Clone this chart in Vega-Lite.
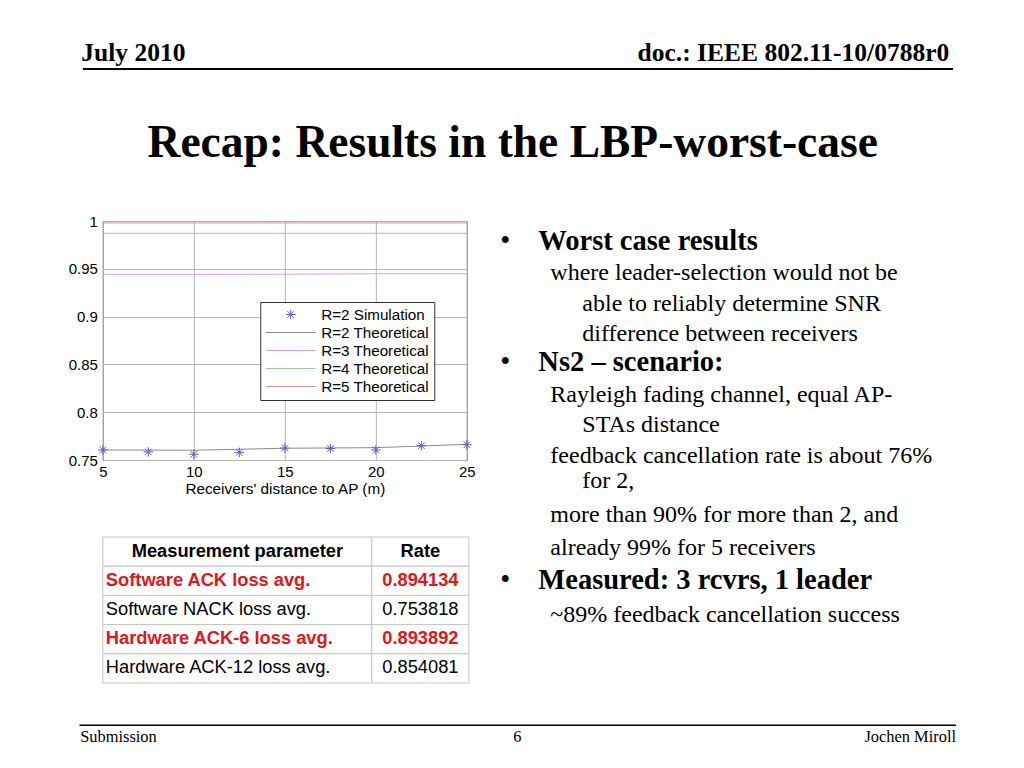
{
  "$schema": "https://vega.github.io/schema/vega-lite/v6.json",
  "background": "white",
  "padding": {"left": 67, "top": 38.5, "right": 0, "bottom": 0},
  "config": {"view": {"stroke": null}, "font": "Liberation Sans"},
  "datasets": {
    "header": [
      {"item": "date", "text": "July 2010"},
      {"item": "doc", "text": "doc.: IEEE 802.11-10/0788r0"}
    ],
    "title": [{"text": "Recap: Results in the LBP-worst-case"}],
    "footer": [
      {"item": "section", "text": "Submission"},
      {"item": "page", "text": "6"},
      {"item": "author", "text": "Jochen Miroll"}
    ],
    "curves": [
      {"series": "R=2 Simulation", "distance": 5, "rate": 0.7605},
      {"series": "R=2 Simulation", "distance": 7.5, "rate": 0.7585},
      {"series": "R=2 Simulation", "distance": 10, "rate": 0.756},
      {"series": "R=2 Simulation", "distance": 12.5, "rate": 0.758},
      {"series": "R=2 Simulation", "distance": 15, "rate": 0.7625},
      {"series": "R=2 Simulation", "distance": 17.5, "rate": 0.762},
      {"series": "R=2 Simulation", "distance": 20, "rate": 0.7605},
      {"series": "R=2 Simulation", "distance": 22.5, "rate": 0.765},
      {"series": "R=2 Simulation", "distance": 25, "rate": 0.766},
      {"series": "R=2 Theoretical", "distance": 5, "rate": 0.7605},
      {"series": "R=2 Theoretical", "distance": 10, "rate": 0.7602},
      {"series": "R=2 Theoretical", "distance": 15, "rate": 0.7623},
      {"series": "R=2 Theoretical", "distance": 20, "rate": 0.7629},
      {"series": "R=2 Theoretical", "distance": 25, "rate": 0.7664},
      {"series": "R=3 Theoretical", "distance": 5, "rate": 0.9442},
      {"series": "R=3 Theoretical", "distance": 10, "rate": 0.9442},
      {"series": "R=3 Theoretical", "distance": 15, "rate": 0.9443},
      {"series": "R=3 Theoretical", "distance": 20, "rate": 0.9448},
      {"series": "R=3 Theoretical", "distance": 25, "rate": 0.9449},
      {"series": "R=4 Theoretical", "distance": 5, "rate": 0.9871},
      {"series": "R=4 Theoretical", "distance": 10, "rate": 0.9871},
      {"series": "R=4 Theoretical", "distance": 15, "rate": 0.9871},
      {"series": "R=4 Theoretical", "distance": 20, "rate": 0.9871},
      {"series": "R=4 Theoretical", "distance": 25, "rate": 0.9871},
      {"series": "R=5 Theoretical", "distance": 5, "rate": 0.998},
      {"series": "R=5 Theoretical", "distance": 10, "rate": 0.998},
      {"series": "R=5 Theoretical", "distance": 15, "rate": 0.998},
      {"series": "R=5 Theoretical", "distance": 20, "rate": 0.998},
      {"series": "R=5 Theoretical", "distance": 25, "rate": 0.998}
    ],
    "table": [
      {"row": 1, "kind": "header", "param": "Measurement parameter", "rate": "Rate"},
      {"row": 2, "kind": "highlight", "param": "Software ACK loss avg.", "rate": "0.894134"},
      {"row": 3, "kind": "normal", "param": "Software NACK loss avg.", "rate": "0.753818"},
      {"row": 4, "kind": "highlight", "param": "Hardware ACK-6 loss avg.", "rate": "0.893892"},
      {"row": 5, "kind": "normal", "param": "Hardware ACK-12 loss avg.", "rate": "0.854081"}
    ],
    "bullets": [
      {"line": 1, "kind": "heading", "text": "Worst case results"},
      {"line": 2, "kind": "sub", "text": "where leader-selection would not be"},
      {"line": 3, "kind": "cont", "text": "able to reliably determine SNR"},
      {"line": 4, "kind": "cont", "text": "difference between receivers"},
      {"line": 5, "kind": "heading", "text": "Ns2 – scenario:"},
      {"line": 6, "kind": "sub", "text": "Rayleigh fading channel, equal AP-"},
      {"line": 7, "kind": "cont", "text": "STAs distance"},
      {"line": 8, "kind": "sub", "text": "feedback cancellation rate is about 76%"},
      {"line": 9, "kind": "cont", "text": "for 2,"},
      {"line": 10, "kind": "sub", "text": "more than 90% for more than 2, and"},
      {"line": 11, "kind": "sub", "text": "already 99% for 5 receivers"},
      {"line": 12, "kind": "heading", "text": "Measured: 3 rcvrs, 1 leader"},
      {"line": 13, "kind": "sub", "text": "~89% feedback cancellation success"}
    ]
  },
  "vconcat": [
    {
      "width": 870,
      "height": 30,
      "data": {"name": "header"},
      "encoding": {
        "x": {"field": "item", "type": "nominal", "scale": {"type": "point", "domain": ["date", "doc"], "padding": 0},
              "axis": {"orient": "bottom", "domain": true, "domainColor": "#000", "domainWidth": 2, "ticks": false, "labels": false, "title": null, "grid": false}},
        "text": {"field": "text"}
      },
      "layer": [
        {"transform": [{"filter": "datum.item === 'date'"}],
         "mark": {"type": "text", "align": "left", "baseline": "alphabetic", "dx": -1.25, "dy": 7.5, "font": "Liberation Serif", "fontSize": 25.5, "fontWeight": "bold", "color": "#000"}},
        {"transform": [{"filter": "datum.item === 'doc'"}],
         "mark": {"type": "text", "align": "right", "baseline": "alphabetic", "dx": -3.25, "dy": 7.5, "font": "Liberation Serif", "fontSize": 25.5, "fontWeight": "bold", "color": "#000"}}
      ]
    },
    {
      "width": 870,
      "height": 62.5,
      "data": {"name": "title"},
      "mark": {"type": "text", "font": "Liberation Serif", "fontSize": 45.5, "fontWeight": "bold", "baseline": "alphabetic", "dx": -4.75, "dy": 16, "color": "#000"},
      "encoding": {"text": {"field": "text"}}
    },
    {
      "columns": 2,
      "spacing": {"row": 77, "column": 30},
      "bounds": "flush",
      "concat": [
        {
          "width": 364,
          "height": 239,
          "view": {"stroke": "#333", "strokeWidth": 1},
          "data": {"name": "curves"},
          "encoding": {
            "x": {"field": "distance", "type": "quantitative",
                  "scale": {"domain": [5, 25], "nice": false, "zero": false},
                  "axis": {"values": [5, 10, 15, 20, 25], "grid": true, "gridColor": "#b4b4b4", "domain": false, "ticks": false,
                           "labelFont": "Liberation Sans", "labelFontSize": 15, "labelColor": "#000", "labelPadding": 4, "labelFlush": false, "labelOverlap": false,
                           "title": "Receivers' distance to AP (m)", "titleFont": "Liberation Sans", "titleFontSize": 15.3, "titleFontWeight": "normal", "titleColor": "#000", "titlePadding": 2}},
            "y": {"field": "rate", "type": "quantitative",
                  "scale": {"domain": [0.75, 1], "nice": false, "zero": false},
                  "axis": {"values": [0.75, 0.8, 0.85, 0.9, 0.95, 1], "format": "~g", "grid": true, "gridColor": "#b4b4b4", "domain": false, "ticks": false,
                           "labelFont": "Liberation Sans", "labelFontSize": 15, "labelColor": "#000", "labelPadding": 5.5, "labelFlush": false, "labelOverlap": false,
                           "title": null}},
            "color": {"field": "series", "type": "nominal",
                      "scale": {"domain": ["R=2 Simulation", "R=2 Theoretical", "R=3 Theoretical", "R=4 Theoretical", "R=5 Theoretical"],
                                "range": ["#5b5bd6", "#8c8c8c", "#e0a0e0", "#8fd48f", "#dc9090"]},
                      "legend": {"title": null, "orient": "none", "legendX": 181.25, "legendY": 263.5,
                                 "strokeColor": "#333", "fillColor": "#fff", "padding": 5,
                                 "labelFont": "Liberation Sans", "labelFontSize": 15.2, "labelColor": "#000", "labelLimit": 400,
                                 "symbolSize": 2500, "symbolStrokeWidth": 1, "symbolOffset": 0, "labelOffset": 5, "rowPadding": 2, "clipHeight": 15,
                                 "encode": {"symbols": {"update": {"size": {"signal": "datum.value === 'R=2 Simulation' ? 90 : 2500"}}}}}}
          },
          "layer": [
            {"transform": [{"filter": "datum.series !== 'R=2 Simulation'"}],
             "mark": {"type": "line", "strokeWidth": 1}},
            {"transform": [{"filter": "datum.series === 'R=2 Simulation'"}],
             "mark": {"type": "point", "filled": false, "size": 90, "strokeWidth": 1, "opacity": 1},
             "encoding": {
               "shape": {"field": "series", "type": "nominal",
                         "scale": {"domain": ["R=2 Simulation", "R=2 Theoretical", "R=3 Theoretical", "R=4 Theoretical", "R=5 Theoretical"],
                                   "range": ["M-1,0L1,0M0,-1L0,1M-0.7,-0.7L0.7,0.7M-0.7,0.7L0.7,-0.7", "stroke", "stroke", "stroke", "stroke"]},
                         "legend": {"title": null, "orient": "none", "legendX": 181.25, "legendY": 263.5,
                                 "strokeColor": "#333", "fillColor": "#fff", "padding": 5,
                                 "labelFont": "Liberation Sans", "labelFontSize": 15.2, "labelColor": "#000", "labelLimit": 400,
                                 "symbolSize": 2500, "symbolStrokeWidth": 1, "symbolOffset": 0, "labelOffset": 5, "rowPadding": 2, "clipHeight": 15,
                                 "encode": {"symbols": {"update": {"size": {"signal": "datum.value === 'R=2 Simulation' ? 90 : 2500"}}}}}}
             }}
          ]
        },
        {
          "width": 422.7,
          "height": 212.5,
          "data": {"name": "bullets"},
          "transform": [{"filter": "datum.line <= 8"}],
          "encoding": {
            "y": {"field": "line", "type": "ordinal", "scale": {"type": "point", "padding": 0}, "axis": null},
            "text": {"field": "text"}
          },
          "layer": [
            {"transform": [{"filter": "datum.kind === 'heading'"}],
             "mark": {"type": "text", "align": "left", "baseline": "alphabetic", "dx": -209.85, "dy": 29, "font": "Liberation Serif", "fontSize": 28.5, "color": "#000"},
             "encoding": {"text": {"value": "•"}}},
            {"transform": [{"filter": "datum.kind === 'heading'"}],
             "mark": {"type": "text", "align": "left", "baseline": "alphabetic", "dx": -171.85, "dy": 29, "font": "Liberation Serif", "fontSize": 28.5, "fontWeight": "bold", "color": "#000"}},
            {"transform": [{"filter": "datum.kind === 'sub'"}],
             "mark": {"type": "text", "align": "left", "baseline": "alphabetic", "dx": -159.85, "dy": 29, "font": "Liberation Serif", "fontSize": 24, "color": "#000"}},
            {"transform": [{"filter": "datum.kind === 'cont'"}],
             "mark": {"type": "text", "align": "left", "baseline": "alphabetic", "dx": -127.85, "dy": 29, "font": "Liberation Serif", "fontSize": 24, "color": "#000"}}
          ]
        },
        {
          "width": 366,
          "height": 146,
          "data": {"name": "table"},
          "encoding": {"y": {"field": "row", "type": "ordinal", "scale": {"paddingInner": 0, "paddingOuter": 0}, "axis": null}},
          "layer": [
            {"mark": {"type": "rect", "fill": "#fff", "stroke": "#c4c4c4", "strokeWidth": 1},
             "encoding": {"x": {"datum": 0, "type": "quantitative", "scale": {"domain": [0, 1], "nice": false, "zero": false}, "axis": null}, "x2": {"datum": 0.735}}},
            {"mark": {"type": "rect", "fill": "#fff", "stroke": "#c4c4c4", "strokeWidth": 1},
             "encoding": {"x": {"datum": 0.735, "type": "quantitative"}, "x2": {"datum": 1}}},
            {"transform": [{"filter": "datum.kind === 'header'"}],
             "mark": {"type": "text", "font": "Liberation Sans", "fontSize": 18.3, "fontWeight": "bold", "color": "#000", "baseline": "middle"},
             "encoding": {"x": {"datum": 0.3675, "type": "quantitative"}, "text": {"field": "param"}}},
            {"transform": [{"filter": "datum.kind === 'highlight'"}],
             "mark": {"type": "text", "align": "left", "dx": 3, "font": "Liberation Sans", "fontSize": 18.3, "fontWeight": "bold", "color": "#e3151a", "baseline": "middle"},
             "encoding": {"x": {"datum": 0, "type": "quantitative"}, "text": {"field": "param"}}},
            {"transform": [{"filter": "datum.kind === 'normal'"}],
             "mark": {"type": "text", "align": "left", "dx": 3, "font": "Liberation Sans", "fontSize": 18.3, "fontWeight": "normal", "color": "#000", "baseline": "middle"},
             "encoding": {"x": {"datum": 0, "type": "quantitative"}, "text": {"field": "param"}}},
            {"transform": [{"filter": "datum.kind === 'header'"}],
             "mark": {"type": "text", "font": "Liberation Sans", "fontSize": 18.3, "fontWeight": "bold", "color": "#000", "baseline": "middle"},
             "encoding": {"x": {"datum": 0.8675, "type": "quantitative"}, "text": {"field": "rate"}}},
            {"transform": [{"filter": "datum.kind === 'highlight'"}],
             "mark": {"type": "text", "font": "Liberation Sans", "fontSize": 18.3, "fontWeight": "bold", "color": "#e3151a", "baseline": "middle"},
             "encoding": {"x": {"datum": 0.8675, "type": "quantitative"}, "text": {"field": "rate"}}},
            {"transform": [{"filter": "datum.kind === 'normal'"}],
             "mark": {"type": "text", "font": "Liberation Sans", "fontSize": 18.3, "fontWeight": "normal", "color": "#000", "baseline": "middle"},
             "encoding": {"x": {"datum": 0.8675, "type": "quantitative"}, "text": {"field": "rate"}}}
          ]
        },
        {
          "width": 422.7,
          "height": 134,
          "data": {"name": "bullets"},
          "transform": [{"filter": "datum.line >= 9"}],
          "encoding": {
            "y": {"field": "line", "type": "ordinal", "scale": {"type": "point", "padding": 0}, "axis": null},
            "text": {"field": "text"}
          },
          "layer": [
            {"transform": [{"filter": "datum.kind === 'heading'"}],
             "mark": {"type": "text", "align": "left", "baseline": "alphabetic", "dx": -209.85, "dy": -48.7, "font": "Liberation Serif", "fontSize": 28.5, "color": "#000"},
             "encoding": {"text": {"value": "•"}}},
            {"transform": [{"filter": "datum.kind === 'heading'"}],
             "mark": {"type": "text", "align": "left", "baseline": "alphabetic", "dx": -171.85, "dy": -48.7, "font": "Liberation Serif", "fontSize": 28.5, "fontWeight": "bold", "color": "#000"}},
            {"transform": [{"filter": "datum.kind === 'sub'"}],
             "mark": {"type": "text", "align": "left", "baseline": "alphabetic", "dx": -159.85, "dy": -48.7, "font": "Liberation Serif", "fontSize": 24, "color": "#000"}},
            {"transform": [{"filter": "datum.kind === 'cont'"}],
             "mark": {"type": "text", "align": "left", "baseline": "alphabetic", "dx": -127.85, "dy": -48.7, "font": "Liberation Serif", "fontSize": 24, "color": "#000"}}
          ]
        }
      ]
    },
    {
      "width": 877,
      "height": 25,
      "data": {"name": "footer"},
      "encoding": {
        "x": {"field": "item", "type": "nominal", "scale": {"type": "point", "domain": ["section", "page", "author"], "padding": 0},
              "axis": {"orient": "top", "domain": true, "domainColor": "#000", "domainWidth": 1.5, "ticks": false, "labels": false, "title": null, "grid": false}},
        "text": {"field": "text"}
      },
      "layer": [
        {"transform": [{"filter": "datum.item === 'section'"}],
         "mark": {"type": "text", "align": "left", "baseline": "alphabetic", "dx": 1.25, "dy": 4.5, "font": "Liberation Serif", "fontSize": 16.4, "color": "#000"}},
        {"transform": [{"filter": "datum.item === 'page'"}],
         "mark": {"type": "text", "align": "center", "baseline": "alphabetic", "dx": -0.25, "dy": 4.5, "font": "Liberation Serif", "fontSize": 16.4, "color": "#000"}},
        {"transform": [{"filter": "datum.item === 'author'"}],
         "mark": {"type": "text", "align": "right", "baseline": "alphabetic", "dx": 0, "dy": 4.5, "font": "Liberation Serif", "fontSize": 16.4, "color": "#000"}}
      ]
    }
  ],
  "spacing": 40.75,
  "bounds": "full",
  "center": true
}
